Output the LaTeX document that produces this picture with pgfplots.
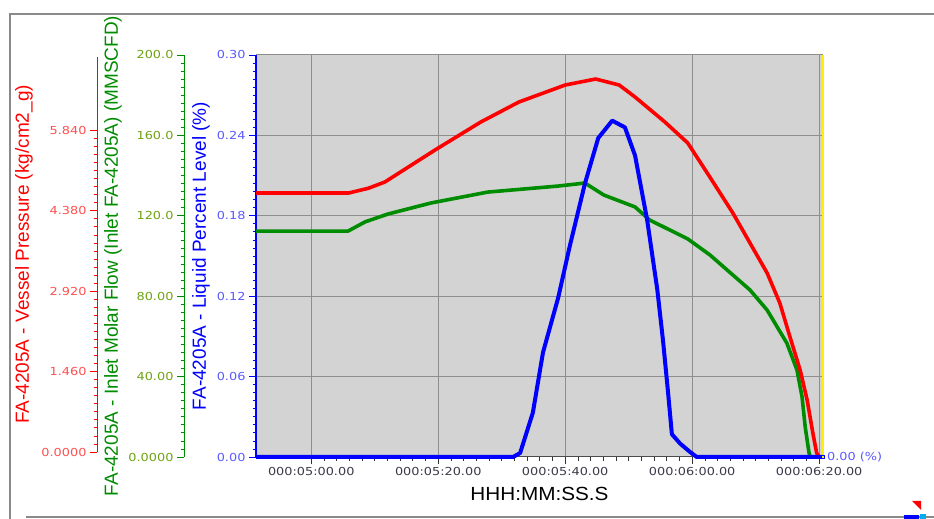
\documentclass[border=0pt]{standalone}
\usepackage{fontspec}
\usepackage{pgfplots}
\pgfplotsset{compat=1.18}
\setmainfont{Liberation Sans}
\newfontfamily\labfont{Liberation Sans}
\newfontfamily\xlabfont{Liberation Sans}[FakeStretch=1.09]
\newfontfamily\tickfont{DejaVu Sans}[FakeStretch=1.17]
\definecolor{plotbg}{HTML}{D3D3D3}
\definecolor{gridc}{HTML}{8E8E8E}
\definecolor{frame}{HTML}{8A8A8A}
\definecolor{pres}{HTML}{FF0000}
\definecolor{flow}{HTML}{008C00}
\definecolor{lvl}{HTML}{0000FF}
\definecolor{prestick}{HTML}{FF5050}
\definecolor{flowtick}{HTML}{6FA214}
\definecolor{lvltick}{HTML}{5A5AFF}
\definecolor{xtickc}{HTML}{3A3A4A}
\definecolor{edge}{HTML}{FFF000}

% time in seconds, value in the series' own units
\pgfplotstableread{
t p
291.3 4.794
305.9 4.794
309.0 4.880
311.6 4.994
319.5 5.575
326.7 6.083
332.7 6.446
340.0 6.755
344.8 6.864
348.5 6.755
351.0 6.537
355.7 6.083
359.3 5.702
362.8 5.080
366.4 4.431
369.1 3.886
371.8 3.341
373.8 2.796
375.4 2.179
377.0 1.580
378.1 1.035
379.0 0.436
379.6 0.073
380.0 0.000
}\pressure

\pgfplotstableread{
t f
291.3 112.4
305.8 112.4
308.5 117.0
312.1 120.9
318.9 126.4
327.8 131.8
338.9 134.8
343.1 136.3
346.1 130.3
351.0 124.4
353.3 117.9
359.3 108.5
362.8 100.5
369.1 83.1
371.8 73.1
374.9 56.7
376.5 43.3
377.3 29.9
377.8 14.9
378.4 2.0
378.6 0.0
}\flow

\pgfplotstableread{
t l
291.3 0
331.8 0
332.9 0.003
334.9 0.033
336.5 0.078
338.9 0.119
340.7 0.157
343.1 0.204
345.2 0.238
347.4 0.251
349.4 0.246
351.0 0.225
352.9 0.177
354.5 0.125
355.4 0.087
356.2 0.048
356.8 0.017
358.1 0.010
359.6 0.004
360.7 0
380.6 0
}\level

\pgfplotsset{
  databox/.style={at={(256pt,62pt)},anchor=south west,scale only axis,
    width=567pt,height=402pt,xmin=291.3,xmax=380.6,clip=false},
  ruler/.style={anchor=south west,scale only axis,width=1pt,xmin=0,xmax=1,
    hide x axis,axis y line*=left,tick align=outside,
    major tick length=7pt,minor tick length=3.5pt,minor y tick num=9},
}

\begin{document}
\begin{tikzpicture}
\useasboundingbox (0,0) rectangle (934pt,519pt);
\draw[frame,line width=1.6pt] (934pt,505pt) -- (10pt,505pt) -- (10pt,0pt);
\draw[frame,line width=1.6pt] (26pt,2pt) -- (934pt,2pt);

% main box: background, grid, time axis and level axis
\begin{axis}[databox,ymin=0,ymax=0.3,
  axis background/.style={fill=plotbg},
  grid=major,major grid style={gridc,line width=1pt},
  axis line style={draw=none},tick pos=left,tick align=outside,
  major tick length=7pt,minor tick length=3.5pt,
  xtick={300,320,340,360,380},
  xticklabels={000:05:00.00,000:05:20.00,000:05:40.00,000:06:00.00,000:06:20.00},
  minor x tick num=9,
  ytick={0,0.06,0.12,0.18,0.24,0.30},
  yticklabels={0.00,0.06,0.12,0.18,0.24,0.30},
  minor y tick num=9,
  xtick style={black!80,line width=0.8pt},
  ytick style={lvl,line width=0.8pt},
  xticklabel style={font=\tickfont\fontsize{11}{13}\selectfont,text=xtickc},
  yticklabel style={font=\tickfont\fontsize{11}{13}\selectfont,text=lvltick},
  xlabel={HHH:MM:SS.S},
  every axis x label/.style={at={(axis description cs:0.5,0)},anchor=center,
    yshift=-37pt,font=\xlabfont\fontsize{19}{22}\selectfont},
  ylabel={FA-4205A - Liquid Percent Level (\%)},
  every axis y label/.style={at={(axis description cs:0,0.5)},anchor=center,
    xshift=-55pt,rotate=90,font=\labfont\fontsize{19}{22}\selectfont,text=lvl},
]
\draw[gridc,line width=1pt] (rel axis cs:0,1) -- (rel axis cs:1,1);
\draw[black!70,line width=1pt] (rel axis cs:0,0) -- (rel axis cs:1,0);
\draw[edge,line width=1.6pt] (rel axis cs:1,0) -- (rel axis cs:1,1);
\draw[lvl,line width=2pt] (rel axis cs:0,0) -- (rel axis cs:0,1);
\end{axis}

% flow ruler
\begin{axis}[ruler,at={(184pt,62pt)},height=402pt,ymin=0,ymax=200,
  y axis line style={flow,line width=1pt,-},
  ytick style={flow,line width=0.8pt},
  ytick={0,40,80,120,160,200},
  yticklabels={0.0000,40.00,80.00,120.0,160.0,200.0},
  yticklabel style={font=\tickfont\fontsize{11}{13}\selectfont,text=flowtick},
  ylabel={FA-4205A - Inlet Molar Flow (Inlet FA-4205A) (MMSCFD)},
  every axis y label/.style={at={(axis description cs:0,0.5)},anchor=center,
    xshift=-71pt,rotate=90,font=\labfont\fontsize{19}{22}\selectfont,text=flow},
]
\end{axis}

% pressure ruler
\begin{axis}[ruler,at={(97pt,67pt)},height=395pt,ymin=0,ymax=7.173,
  y axis line style={pres,line width=1pt,-},
  ytick style={pres,line width=0.8pt},
  ytick={0,1.46,2.92,4.38,5.84},
  yticklabels={0.0000,1.460,2.920,4.380,5.840},
  yticklabel style={font=\tickfont\fontsize{11}{13}\selectfont,text=prestick},
  ylabel={FA-4205A - Vessel Pressure (kg/cm2\_g)},
  every axis y label/.style={at={(axis description cs:0,0.5)},anchor=center,
    xshift=-73pt,rotate=90,font=\labfont\fontsize{19}{22}\selectfont,text=pres},
]
\end{axis}

% series
\begin{axis}[databox,hide axis,ymin=0,ymax=200]
\addplot[flow,line width=3.6pt,line join=round] table[x=t,y=f] {\flow};
\end{axis}
\begin{axis}[databox,hide axis,ymin=0,ymax=7.3]
\addplot[pres,line width=3.6pt,line join=round] table[x=t,y=p] {\pressure};
\end{axis}
\begin{axis}[databox,hide axis,ymin=0,ymax=0.3]
\addplot[lvl,line width=4pt,line join=round,mark=square*,mark indices={21},
  mark options={draw=lvl,fill=edge,line width=1pt,scale=0.8}] table[x=t,y=l] {\level};
\node[anchor=west,text=lvltick,font=\tickfont\fontsize{11}{13}\selectfont,inner sep=0pt,xshift=4pt]
  at (axis cs:380.6,0) {0.00 (\%)};
\end{axis}

% corner icon
\fill[red] (912pt,18pt) -- (921pt,18pt) -- (921pt,9pt) -- cycle;
\fill[lvl] (904pt,0pt) rectangle (919pt,4pt);
\fill[cyan] (920pt,0pt) rectangle (926pt,5pt);
\end{tikzpicture}
\end{document}
